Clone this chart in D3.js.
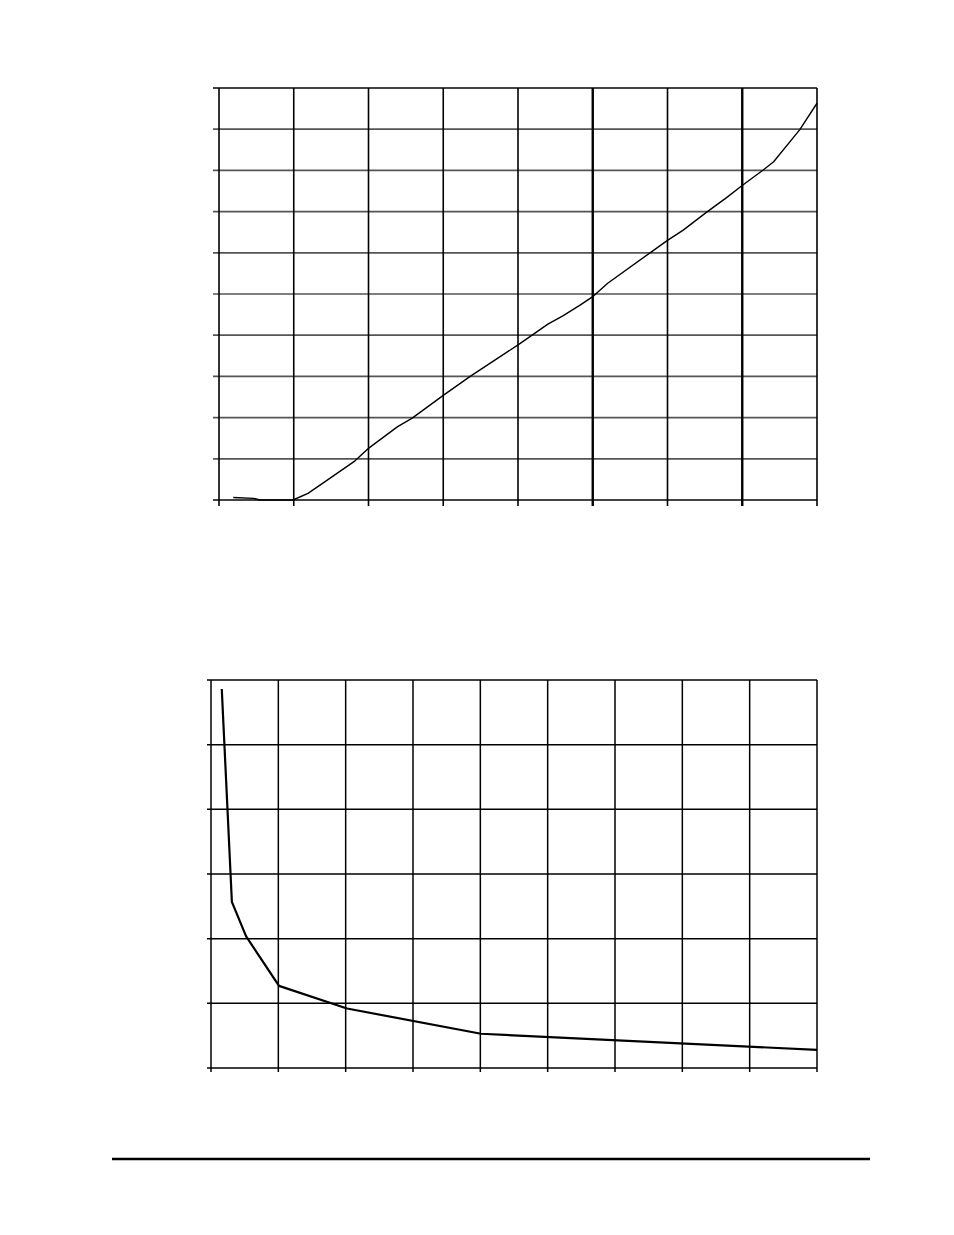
<!DOCTYPE html>
<html>
<head>
<meta charset="utf-8">
<script src="https://cdn.jsdelivr.net/npm/d3@7"></script>
<style>
  body { margin: 0; background: #fff; }
  svg { display: block; }
</style>
</head>
<body>
<div id="page"></div>
<script>
/****************************************/
/*****  Data   *****/
/****************************************/
// upper chart: 8 x divisions, 10 y divisions (no labels printed)
const topX = [0.19, 0.46, 0.55, 0.99, 1.19, 1.39, 1.82, 1.99, 2.39, 2.58, 3.00, 3.36, 4.03, 4.40, 4.60, 4.83, 5.01, 5.20, 5.79, 5.99, 6.21, 6.52, 6.79, 6.99, 7.28, 7.42, 7.77, 8.00];
const topY = [0.06, 0.04, 0.00, 0.00, 0.16, 0.41, 0.95, 1.24, 1.78, 1.98, 2.54, 3.00, 3.80, 4.27, 4.47, 4.73, 4.95, 5.26, 6.03, 6.29, 6.55, 6.98, 7.34, 7.62, 8.01, 8.21, 8.99, 9.63];
const topXTicks = [0, 1, 2, 3, 4, 5, 6, 7, 8];
const topYTicks = [0, 1, 2, 3, 4, 5, 6, 7, 8, 9, 10];

// lower chart: 9 x divisions, 6 y divisions
const botX = [0.16, 0.31, 0.52, 1.01, 2.02, 4.01, 9.00];
const botY = [5.86, 2.57, 2.04, 1.27, 0.92, 0.53, 0.28];
const botXTicks = [0, 1, 2, 3, 4, 5, 6, 7, 8, 9];
const botYTicks = [0, 1, 2, 3, 4, 5, 6];

/****************************************/
/*****  Page   *****/
/****************************************/
const width = 954;
const height = 1235;
const svg = d3.select('#page')
  .append('svg')
    .attr('width', width)
    .attr('height', height);

// draws grid + outward ticks + curve for one chart
function drawChart(opts) {
  const x = d3.scaleLinear().domain(opts.xDomain).range([opts.left, opts.right]);
  const y = d3.scaleLinear().domain(opts.yDomain).range([opts.bottom, opts.top]);
  const g = svg.append('g').attr('class', opts.name);

  // horizontal grid lines, running a little past the left axis
  g.selectAll('.hline')
    .data(opts.yTicks)
    .join('line')
      .attr('class', 'hline')
      .attr('x1', x(opts.xDomain[0]) - opts.tick)
      .attr('x2', x(opts.xDomain[1]))
      .attr('y1', d => y(d))
      .attr('y2', d => y(d))
      .attr('stroke', d => opts.hColor(d))
      .attr('stroke-width', d => opts.hWidth(d));

  // vertical grid lines, running a little below the bottom axis
  g.selectAll('.vline')
    .data(opts.xTicks)
    .join('line')
      .attr('class', 'vline')
      .attr('x1', d => x(d))
      .attr('x2', d => x(d))
      .attr('y1', y(opts.yDomain[1]))
      .attr('y2', y(opts.yDomain[0]) + opts.tick)
      .attr('stroke', '#000')
      .attr('stroke-width', d => opts.vWidth(d));

  const line = d3.line()
    .x(d => x(d[0]))
    .y(d => y(d[1]));

  g.append('path')
    .datum(d3.zip(opts.xs, opts.ys))
    .attr('d', line)
    .attr('fill', 'none')
    .attr('stroke', '#000')
    .attr('stroke-width', opts.curveWidth)
    .attr('stroke-linejoin', 'round');
}

drawChart({
  name: 'upper',
  left: 219, right: 817, top: 88, bottom: 500,
  xDomain: [0, 8], yDomain: [0, 10],
  xTicks: topXTicks, yTicks: topYTicks,
  xs: topX, ys: topY,
  tick: 6,
  hColor: d => (d === 0 || d === 10) ? '#444' : '#555',
  hWidth: d => (d === 0 || d === 10) ? 2.2 : 1.7,
  vWidth: d => (d === 5 || d === 7) ? 2.4 : 1.6,
  curveWidth: 1.4
});

drawChart({
  name: 'lower',
  left: 211, right: 817, top: 680, bottom: 1068,
  xDomain: [0, 9], yDomain: [0, 6],
  xTicks: botXTicks, yTicks: botYTicks,
  xs: botX, ys: botY,
  tick: 4,
  hColor: d => '#000',
  hWidth: d => 1.5,
  vWidth: d => 1.5,
  curveWidth: 2.2
});

// footer rule
svg.append('line')
  .attr('x1', 112)
  .attr('x2', 870)
  .attr('y1', 1159)
  .attr('y2', 1159)
  .attr('stroke', '#000')
  .attr('stroke-width', 2.5);
</script>
</body>
</html>
